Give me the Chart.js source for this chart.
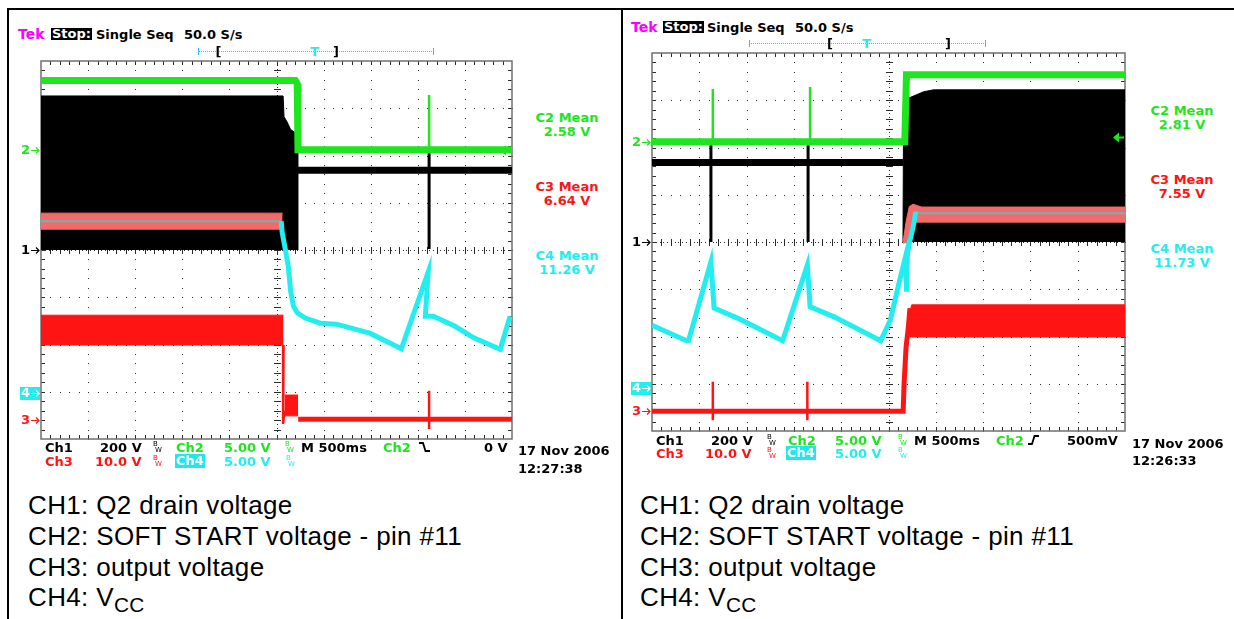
<!DOCTYPE html>
<html>
<head>
<meta charset="utf-8">
<title>Soft start - Tek captures</title>
<script src="https://cdn.jsdelivr.net/npm/chart.js@4.4.0/dist/chart.umd.min.js"></script>
<style>
  body { margin: 0; background: #fff; }
  #page { position: relative; width: 1234px; height: 619px; overflow: hidden; background: #fff; font-family: "DejaVu Sans", sans-serif; }
  .rule { position: absolute; background: #000; z-index: 2; }
  canvas { position: absolute; }
  .t { position: absolute; font-size: 13px; line-height: 13px; font-weight: bold; white-space: nowrap; transform: translateY(-50%); color: #000; }
  .c { transform: translate(-50%, -50%); }
  .stop { background: #000; color: #fff; padding: 0 1px; line-height: 12px; }
  .box { background: #22e6ee; color: #fff; padding: 0 1px; line-height: 14px; }
  .g { color: #1ee61e; }
  .r { color: #ff1414; }
  .cy { color: #22eef0; }
  .bw { position: absolute; width: 8px; height: 12px; transform: translateY(-50%); font-size: 7px; line-height: 7px; }
  .bw i { position: absolute; left: 0; top: 0; font-style: normal; }
  .bw b { position: absolute; left: 2px; top: 6px; font-weight: normal; }
  .bar { position: absolute; height: 0; border-top: 1px dotted #22c8e6; }
  .bar::before, .bar::after { content: ''; position: absolute; top: -4px; width: 1px; height: 7px; background: #22c8e6; }
  .bar::before { left: 0; }
  .bar::after { right: 0; }
  .edge { position: absolute; transform: translateY(-50%); }
  .cap { position: absolute; font-family: "Liberation Sans", Arial, sans-serif; font-size: 26px; line-height: 26px; white-space: nowrap; transform: translateY(-50%); color: #000; letter-spacing: 0.35px; }
  .cap sub { font-size: 0.8em; vertical-align: -0.3em; line-height: 0; }
</style>
</head>
<body>
<div id="page">
  <div class="rule" style="left:7px;top:8px;width:1227px;height:2px"></div>
  <div class="rule" style="left:7px;top:8px;width:2px;height:611px"></div>
  <div class="rule" style="left:621px;top:8px;width:2px;height:611px"></div>

  <canvas id="scopeL" width="508" height="390" style="left:10px;top:55px"></canvas>
  <canvas id="scopeR" width="509" height="390" style="left:622px;top:47px"></canvas>

  <!-- left capture: header -->
  <span class="t" style="left:18px;top:33.5px;color:#ff00ff;font-size:14px">Tek</span>
  <span class="t stop" style="left:51px;top:33.5px">Stop:</span>
  <span class="t" style="left:96px;top:33.5px">Single Seq</span>
  <span class="t" style="left:184px;top:33.5px">50.0 S/s</span>
  <div class="bar" style="left:198px;top:51px;width:236px"></div>
  <span class="t c" style="left:218.5px;top:51px">[</span>
  <span class="t c cy" style="left:315px;top:51px">T</span>
  <span class="t c" style="left:336px;top:51px">]</span>

  <!-- left capture: measurements -->
  <span class="t c g" style="left:567px;top:116.7px">C2 Mean</span>
  <span class="t c g" style="left:567px;top:131px">2.58 V</span>
  <span class="t c r" style="left:567px;top:185.7px">C3 Mean</span>
  <span class="t c r" style="left:567px;top:200px">6.64 V</span>
  <span class="t c cy" style="left:567px;top:255px">C4 Mean</span>
  <span class="t c cy" style="left:567px;top:268.5px">11.26 V</span>

  <!-- left capture: settings -->
  <span class="t" style="left:45px;top:447px">Ch1</span>
  <span class="t" style="left:100px;top:447px">200 V</span>
  <span class="bw" style="left:153px;top:447px"><i>B</i><b>W</b></span>
  <span class="t g" style="left:176px;top:447px">Ch2</span>
  <span class="t g" style="left:224px;top:447px">5.00 V</span>
  <span class="bw g" style="left:285px;top:447px"><i>B</i><b>W</b></span>
  <span class="t" style="left:301px;top:447px">M 500ms</span>
  <span class="t g" style="left:383px;top:447px">Ch2</span>
  <svg class="edge" style="left:419px;top:447px" width="11" height="11"><path d="M0 1.5H4L6.5 9.5H11" fill="none" stroke="#000" stroke-width="1.8"/></svg>
  <span class="t" style="left:484px;top:447px">0 V</span>
  <span class="t r" style="left:45px;top:460.5px">Ch3</span>
  <span class="t r" style="left:95px;top:460.5px">10.0 V</span>
  <span class="bw r" style="left:153px;top:460.5px"><i>B</i><b>W</b></span>
  <span class="t box" style="left:175px;top:461px">Ch4</span>
  <span class="t cy" style="left:224px;top:460.5px">5.00 V</span>
  <span class="bw cy" style="left:286px;top:460.5px"><i>B</i><b>W</b></span>
  <span class="t" style="left:518px;top:450px">17 Nov 2006</span>
  <span class="t" style="left:518px;top:468px">12:27:38</span>

  <!-- right capture: header -->
  <span class="t" style="left:631px;top:27px;color:#ff00ff;font-size:14px">Tek</span>
  <span class="t stop" style="left:663px;top:27px">Stop:</span>
  <span class="t" style="left:707px;top:27px">Single Seq</span>
  <span class="t" style="left:795px;top:27px">50.0 S/s</span>
  <div class="bar" style="left:749px;top:43px;width:237px"></div>
  <span class="t c" style="left:830px;top:43px">[</span>
  <span class="t c cy" style="left:867px;top:43px">T</span>
  <span class="t c" style="left:948px;top:43px">]</span>

  <!-- right capture: measurements -->
  <span class="t c g" style="left:1182px;top:110px">C2 Mean</span>
  <span class="t c g" style="left:1182px;top:124px">2.81 V</span>
  <span class="t c r" style="left:1182px;top:179px">C3 Mean</span>
  <span class="t c r" style="left:1182px;top:192.7px">7.55 V</span>
  <span class="t c cy" style="left:1182px;top:248px">C4 Mean</span>
  <span class="t c cy" style="left:1182px;top:261.7px">11.73 V</span>

  <!-- right capture: settings -->
  <span class="t" style="left:656px;top:439.5px">Ch1</span>
  <span class="t" style="left:711px;top:439.5px">200 V</span>
  <span class="bw" style="left:767px;top:439.5px"><i>B</i><b>W</b></span>
  <span class="t g" style="left:788px;top:439.5px">Ch2</span>
  <span class="t g" style="left:835px;top:439.5px">5.00 V</span>
  <span class="bw g" style="left:898px;top:439.5px"><i>B</i><b>W</b></span>
  <span class="t" style="left:914px;top:439.5px">M 500ms</span>
  <span class="t g" style="left:996px;top:439.5px">Ch2</span>
  <svg class="edge" style="left:1028px;top:439.5px" width="11" height="11"><path d="M0 9.5H4L6.5 1.5H11" fill="none" stroke="#000" stroke-width="1.8"/></svg>
  <span class="t" style="left:1067px;top:439.5px">500mV</span>
  <span class="t r" style="left:656px;top:452.5px">Ch3</span>
  <span class="t r" style="left:705px;top:452.5px">10.0 V</span>
  <span class="bw r" style="left:767px;top:452.5px"><i>B</i><b>W</b></span>
  <span class="t box" style="left:786px;top:453px">Ch4</span>
  <span class="t cy" style="left:835px;top:452.5px">5.00 V</span>
  <span class="bw cy" style="left:898px;top:452.5px"><i>B</i><b>W</b></span>
  <span class="t" style="left:1132px;top:442.5px">17 Nov 2006</span>
  <span class="t" style="left:1132px;top:460px">12:26:33</span>

  <!-- captions -->
  <div class="cap" style="left:28px;top:505px">CH1: Q2 drain voltage</div>
  <div class="cap" style="left:28px;top:536px">CH2: SOFT START voltage - pin #11</div>
  <div class="cap" style="left:28px;top:567px">CH3: output voltage</div>
  <div class="cap" style="left:28px;top:597px">CH4: V<sub>CC</sub></div>
  <div class="cap" style="left:640px;top:505px">CH1: Q2 drain voltage</div>
  <div class="cap" style="left:640px;top:536px">CH2: SOFT START voltage - pin #11</div>
  <div class="cap" style="left:640px;top:567px">CH3: output voltage</div>
  <div class="cap" style="left:640px;top:597px">CH4: V<sub>CC</sub></div>
</div>

<script>
// Tek captures: soft start shutdown (left) and restart (right)

// Scope settings
const timePerDiv = 0.5; // M 500ms
const voltsPerDiv = { c1: 200, c2: 5, c3: 10, c4: 5 };
// ground markers, in divisions from the screen centre
const groundL = { c1: 0.0, c2: 2.12, c3: -3.60, c4: -3.03 };
const groundR = { c1: 0.0, c2: 2.12, c3: -3.58, c4: -3.09 };

// Colours
const colors = {
    c1: '#000000',
    c2: '#1ee61e',
    c3: '#ff1414',
    c4: '#22eef0',
    c4Mean: '#70b4b4',
    band: '#f26a6a'
};

// ---- Left capture, points are [time s, volts] ----
const L_ch1Env = [[0, 652], [2.57, 652], [2.58, 564], [2.61, 544], [2.65, 510], [2.70, 496], [2.725, 496], [2.725, 0]];
const L_ch1Dc = [[2.725, 338], [5, 338]];
const L_ch1Spikes = [[[4.12, 432], [4.12, 4]]];
const L_ch2 = [[0, 7.33], [2.70, 7.33], [2.72, 7.0], [2.728, 0], [5, 0]];
const L_ch2Spikes = [[[4.12, 0], [4.12, 5.8]]];
const L_ch3BandHi = [[0, 22.2], [2.575, 22.2]];
const L_ch3BandLo = [[0, 15.9], [2.575, 15.9]];
const L_ch3BlockHi = [[2.585, 5.3], [2.73, 5.3]];
const L_ch3BlockLo = [[2.585, 0.9], [2.73, 0.9]];
const L_ch3 = [[2.73, 0.2], [5, 0.2]];
const L_ch3Spikes = [[[2.575, 15.9], [2.57, -0.8], [2.585, 2.0]], [[4.12, 6.2], [4.12, -1.9]]];
const L_ch4EnvHi = [[0, 19.05], [2.565, 19.05]];
const L_ch4EnvLo = [[0, 17.35], [2.565, 17.35]];
const L_ch4Mean = [[0, 18.2], [2.55, 18.2]];
const L_ch4 = [[2.55, 18.2], [2.56, 17.0], [2.595, 15.15], [2.625, 13.45], [2.65, 10.8], [2.68, 9.2],
    [2.72, 8.5], [2.805, 7.95], [2.965, 7.4], [3.135, 7.3], [3.49, 6.35], [3.825, 4.7],
    [4.11, 12.8], [4.08, 8.15], [4.165, 8.15], [4.39, 7.1], [4.595, 5.85], [4.875, 4.65], [4.98, 8.15]];

// ---- Right capture ----
const R_ch1Env = [[2.653, 0], [2.66, 592], [2.707, 608], [2.872, 636], [2.976, 644], [5, 644], [5, 0]];
const R_ch1Dc = [[0, 337], [2.653, 337]];
const R_ch1Spikes = [[[0.623, 410], [0.623, 0]], [[1.65, 410], [1.65, 0]]];
const R_ch2 = [[0, 0], [2.672, 0], [2.69, 7.1], [5, 7.1]];
const R_ch2Spikes = [[[0.643, 0], [0.643, 5.6]], [[1.671, 0], [1.671, 5.8]]];
const R_ch3BandHi = [[2.72, 20.5], [2.745, 22.5], [5, 22.5]];
const R_ch3BandLo = [[2.72, 15.7], [2.745, 15.7], [5, 15.7]];
const R_ch3 = [[0, 0], [2.655, 0], [2.665, 6.0], [2.686, 13.6], [2.707, 17.2], [2.727, 21.8]];
const R_ch3Spikes = [[[0.643, 6.2], [0.643, -1.9]], [[1.642, 6.2], [1.642, -1.9]]];
const R_ch4EnvHi = [[2.655, 15.5], [2.686, 17.6], [2.72, 19.2], [2.76, 19.45], [2.85, 19.15], [5, 19.15]];
const R_ch4EnvLo = [[2.655, 15.3], [2.686, 15.4], [2.72, 16.3], [2.76, 17.55], [2.85, 17.55], [5, 17.55]];
const R_ch4Mean = [[2.79, 18.65], [2.85, 18.5], [5, 18.5]];
const R_ch4 = [[0, 6.65], [0.366, 5.0], [0.386, 5.0], [0.623, 13.35], [0.656, 8.45], [0.904, 7.4],
    [1.381, 5.0], [1.642, 13.0], [1.671, 8.6], [1.93, 7.5], [2.417, 5.0], [2.52, 7.2], [2.611, 11.1],
    [2.68, 13.9], [2.69, 10.2], [2.70, 14.2], [2.707, 14.6], [2.727, 15.6], [2.76, 17.0], [2.789, 18.65]];

// Helpers
function pts(list) {
    return list.map(([t, v]) => ({ x: t, y: v }));
}

// several strokes in one dataset, split by gaps
function strokes(segs) {
    const out = [];
    segs.forEach((s, i) => {
        if (i > 0) out.push({ x: s[0][0], y: null });
        s.forEach(([t, v]) => out.push({ x: t, y: v }));
    });
    return out;
}

function line(data, axis, color, width, order) {
    return {
        data: data, yAxisID: axis, borderColor: color, backgroundColor: color,
        borderWidth: width, pointRadius: 0, fill: false, order: order,
        borderJoinStyle: 'miter', borderCapStyle: 'butt'
    };
}

function band(lo, hi, axis, color, order) {
    return [
        { data: pts(lo), yAxisID: axis, borderColor: color, borderWidth: 1, pointRadius: 0, fill: false, order: order },
        { data: pts(hi), yAxisID: axis, borderColor: color, backgroundColor: color, borderWidth: 1, pointRadius: 0, fill: '-1', order: order }
    ];
}

function scopeScales(ground) {
    const s = {
        x: { type: 'linear', min: 0, max: 10 * timePerDiv, display: false },
        y: { type: 'linear', min: -4, max: 4, display: false }
    };
    ['c1', 'c2', 'c3', 'c4'].forEach(ch => {
        s[ch] = {
            type: 'linear', axis: 'y', position: 'left', display: false,
            min: (-4 - ground[ch]) * voltsPerDiv[ch],
            max: (4 - ground[ch]) * voltsPerDiv[ch]
        };
    });
    return s;
}

// Tek graticule and channel markers, drawn from the scales
const tekScreen = {
    id: 'tekScreen',
    beforeDatasetsDraw(chart) {
        const { ctx, chartArea: a, scales: { x, y } } = chart;
        const px = v => Math.round(x.getPixelForValue(v));
        const py = v => Math.round(y.getPixelForValue(v));
        const fifth = timePerDiv / 5;
        ctx.save();
        ctx.fillStyle = '#2a2a2a';
        // dotted division lines
        for (let i = 1; i < 10; i++) {
            if (i === 5) continue;
            const gx = px(i * timePerDiv);
            for (let k = 0; k <= 40; k++) ctx.fillRect(gx, py(-4 + k * 0.2), 1, 1);
        }
        for (let j = -3; j <= 3; j++) {
            if (j === 0) continue;
            const gy = py(j);
            for (let k = 0; k <= 50; k++) ctx.fillRect(px(k * fifth), gy, 1, 1);
        }
        // centre lines with minor ticks
        const cx = px(5 * timePerDiv), cy = py(0);
        for (let k = 0; k <= 100; k++) ctx.fillRect(cx, py(-4 + k * 0.08), 1, 1);
        for (let k = 0; k <= 125; k++) ctx.fillRect(px(k * timePerDiv / 12.5), cy, 1, 1);
        for (let k = 1; k < 40; k++) ctx.fillRect(cx - 3, py(-4 + k * 0.2), 7, 1);
        for (let k = 1; k < 50; k++) ctx.fillRect(px(k * fifth), cy - 3, 1, 7);
        // frame ticks
        for (let k = 1; k < 50; k++) {
            const tx = px(k * fifth);
            ctx.fillRect(tx, a.top, 1, 4);
            ctx.fillRect(tx, a.bottom - 4, 1, 4);
        }
        for (let k = 1; k < 40; k++) {
            const ty = py(-4 + k * 0.2);
            ctx.fillRect(a.left, ty, 4, 1);
            ctx.fillRect(a.right - 4, ty, 4, 1);
        }
        ctx.strokeStyle = '#707070';
        ctx.lineWidth = 1.5;
        ctx.strokeRect(a.left, a.top, a.right - a.left, a.bottom - a.top);
        ctx.restore();
    },
    afterDraw(chart, args, opts) {
        const { ctx, chartArea: a, scales } = chart;
        ctx.save();
        ctx.font = 'bold 13px "DejaVu Sans"';
        ctx.textBaseline = 'middle';
        ctx.textAlign = 'left';
        opts.markers.forEach(m => {
            const yy = Math.round(scales[m.axis].getPixelForValue(0)) + 0.5;
            const x0 = a.left - 20;
            if (m.boxed) {
                ctx.fillStyle = m.color;
                ctx.fillRect(x0 - 1, yy - 6.5, 20, 13);
                ctx.fillStyle = '#fff';
            } else {
                ctx.fillStyle = m.color;
            }
            ctx.fillText(m.label, x0, yy + 0.5);
            ctx.strokeStyle = ctx.fillStyle;
            ctx.lineWidth = 1.2;
            ctx.beginPath();
            ctx.moveTo(x0 + 10, yy);
            ctx.lineTo(a.left - 2, yy);
            ctx.moveTo(a.left - 5, yy - 3);
            ctx.lineTo(a.left - 2, yy);
            ctx.lineTo(a.left - 5, yy + 3);
            ctx.stroke();
        });
        // trigger level arrow
        const ty = Math.round(scales[opts.trigger.axis].getPixelForValue(opts.trigger.value)) + 0.5;
        ctx.fillStyle = colors.c2;
        ctx.beginPath();
        ctx.moveTo(a.right - 12, ty);
        ctx.lineTo(a.right - 6, ty - 5);
        ctx.lineTo(a.right - 6, ty + 5);
        ctx.closePath();
        ctx.fill();
        ctx.fillRect(a.right - 7, ty - 1, 6, 2);
        ctx.restore();
    }
};

function markers() {
    return [
        { axis: 'c2', label: '2', color: colors.c2 },
        { axis: 'c1', label: '1', color: '#000' },
        { axis: 'c4', label: '4', color: colors.c4, boxed: true },
        { axis: 'c3', label: '3', color: colors.c3 }
    ];
}

function makeScope(canvasId, ground, padLeft, datasets, trigger) {
    return new Chart(document.getElementById(canvasId), {
        type: 'line',
        data: { datasets: datasets },
        options: {
            responsive: false,
            animation: false,
            events: [],
            layout: { padding: { left: padLeft, right: 6, top: 6, bottom: 6 } },
            elements: { line: { tension: 0 }, point: { radius: 0 } },
            scales: scopeScales(ground),
            plugins: {
                legend: { display: false },
                tooltip: { enabled: false },
                tekScreen: { markers: markers(), trigger: trigger }
            }
        },
        plugins: [tekScreen]
    });
}

// Left: shutdown
makeScope('scopeL', groundL, 31, [
    line(strokes(L_ch2Spikes), 'c2', colors.c2, 2.5, 0),
    line(pts(L_ch2), 'c2', colors.c2, 7, 1),
    line(pts(L_ch4), 'c4', colors.c4, 5, 2),
    line(strokes(L_ch3Spikes), 'c3', colors.c3, 2.5, 3),
    line(pts(L_ch3), 'c3', colors.c3, 5, 4),
    ...band(L_ch3BandLo, L_ch3BandHi, 'c3', colors.c3, 5),
    ...band(L_ch3BlockLo, L_ch3BlockHi, 'c3', colors.c3, 5),
    line(pts(L_ch4Mean), 'c4', colors.c4Mean, 2, 6),
    ...band(L_ch4EnvLo, L_ch4EnvHi, 'c4', colors.band, 7),
    line(strokes(L_ch1Spikes), 'c1', colors.c1, 3, 8),
    line(pts(L_ch1Dc), 'c1', colors.c1, 7, 9),
    Object.assign(line(pts(L_ch1Env), 'c1', colors.c1, 1, 10), { fill: 'origin' })
], { axis: 'c2', value: 0 });

// Right: restart
makeScope('scopeR', groundR, 30, [
    line(strokes(R_ch2Spikes), 'c2', colors.c2, 2.5, 0),
    line(pts(R_ch2), 'c2', colors.c2, 7, 1),
    line(pts(R_ch4), 'c4', colors.c4, 5, 2),
    line(strokes(R_ch3Spikes), 'c3', colors.c3, 2.5, 3),
    line(pts(R_ch3), 'c3', colors.c3, 5, 4),
    ...band(R_ch3BandLo, R_ch3BandHi, 'c3', colors.c3, 5),
    line(pts(R_ch4Mean), 'c4', colors.c4Mean, 2, 6),
    ...band(R_ch4EnvLo, R_ch4EnvHi, 'c4', colors.band, 7),
    line(strokes(R_ch1Spikes), 'c1', colors.c1, 3, 8),
    line(pts(R_ch1Dc), 'c1', colors.c1, 7, 9),
    Object.assign(line(pts(R_ch1Env), 'c1', colors.c1, 1, 10), { fill: 'origin' })
], { axis: 'c2', value: 0.5 });
</script>
</body>
</html>
